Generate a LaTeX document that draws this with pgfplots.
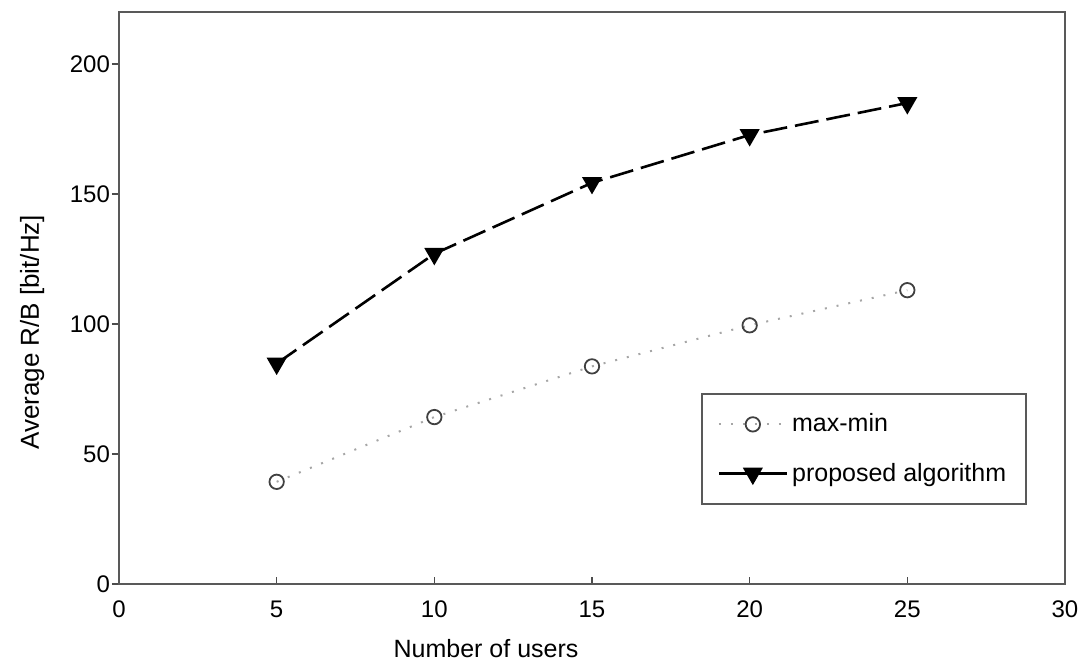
\documentclass[border=0pt]{standalone}
\usepackage{fontspec}
\setmainfont{Liberation Sans}
\usepackage{pgfplots}
\pgfplotsset{compat=1.18}
\pgfplotsset{
  legdotted/.style={legend image code/.code={%
    \draw[##1] (0pt,0pt) -- (34pt,0pt);
    \draw[##1, solid] plot coordinates {(17pt,0pt)};}},
  legsolid/.style={legend image code/.code={%
    \draw[##1, solid] (0pt,0pt) -- (34pt,0pt);
    \draw[##1, solid] plot coordinates {(17pt,0pt)};}},
}
\begin{document}
\begin{tikzpicture}
\path[use as bounding box] (-59.5pt,-40pt) rectangle (482.5pt,292pt);
\begin{axis}[
  at={(0,0)}, anchor=south west,
  scale only axis,
  width=473pt, height=286pt,
  xmin=0, xmax=30, ymin=0, ymax=220,
  xtick={0,5,...,30}, ytick={0,50,...,200},
  xtick pos=bottom, ytick pos=left,
  axis line style={gray!70!black, line width=1pt},
  tick style={gray!60!black, line width=0.8pt},
  xtick align=inside, ytick align=outside,
  major tick length=3.5pt,
  x tick label style={font=\fontsize{12}{14}\selectfont, yshift=-5pt},
  y tick label style={font=\fontsize{12}{14}\selectfont, xshift=2.5pt},
  /pgf/number format/assume math mode=true,
  xlabel={Number of users},
  ylabel={Average R/B [bit/Hz]},
  xlabel style={font=\fontsize{12.5}{14}\selectfont, at={(ticklabel cs:0.388)}, anchor=near ticklabel, yshift=-4pt},
  ylabel style={font=\fontsize{13}{15}\selectfont, at={(ticklabel cs:0.44)}, anchor=near ticklabel, yshift=6pt},
  legend style={at={(0.96,0.138)}, anchor=south east,
    draw=gray!70!black, line width=1pt,
    font=\fontsize{12.5}{14}\selectfont,
    inner xsep=8pt, inner ysep=8pt,
    row sep=10pt, cells={anchor=west}},
  legend cell align=left,
]
\addplot[gray!70, line width=1pt, dash pattern=on 1pt off 5pt,
  mark=o, mark size=3.6pt, mark options={solid, draw=black!75, line width=0.9pt, fill=white},
  legdotted]
  coordinates {(5,39.3) (10,64.2) (15,83.7) (20,99.5) (25,113)};
\addlegendentry{max-min}
\addplot[black, line width=1.3pt, dash pattern=on 12pt off 4pt,
  mark=triangle*, mark size=4.5pt, mark options={solid, rotate=180, fill=black},
  legsolid]
  coordinates {(5,84.8) (10,127) (15,154.3) (20,172.7) (25,185)};
\addlegendentry{proposed algorithm}
\end{axis}
\end{tikzpicture}
\end{document}
